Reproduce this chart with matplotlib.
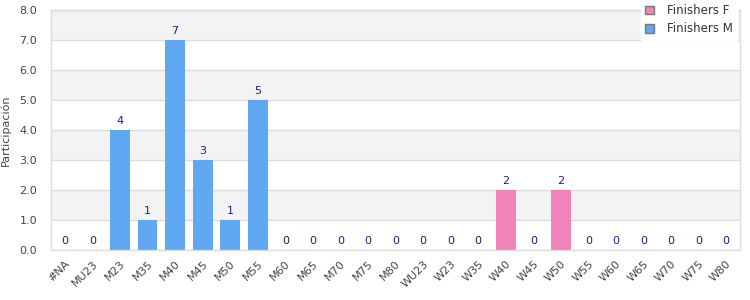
import matplotlib.pyplot as plt
import numpy as np
from matplotlib.patches import Patch

categories = ["#NA", "MU23", "M23", "M35", "M40", "M45", "M50", "M55", "M60", "M65",
              "M70", "M75", "M80", "WU23", "W23", "W35", "W40", "W45", "W50", "W55",
              "W60", "W65", "W70", "W75", "W80"]
finishers_m = [0, 0, 4, 1, 7, 3, 1, 5, 0, 0, 0, 0, 0, 0, 0, 0, 0, 0, 0, 0, 0, 0, 0, 0, 0]
finishers_f = [0, 0, 0, 0, 0, 0, 0, 0, 0, 0, 0, 0, 0, 0, 0, 0, 2, 0, 2, 0, 0, 0, 0, 0, 0]

blue = "#60a8f2"
pink = "#f283b8"
label_color = "#1a1a8c"

fig = plt.figure(figsize=(7.5, 3.0), dpi=100)
ax = fig.add_axes([51 / 750, 50 / 300, 689 / 750, 240 / 300])

x = np.arange(len(categories))
m = np.array(finishers_m)
f = np.array(finishers_f)

# alternating background bands
for lo in range(0, 8):
    if lo % 2 == 1:
        ax.axhspan(lo, lo + 1, color="#f3f3f3", zorder=0, lw=0)
ax.yaxis.grid(True, color="#dddddd", lw=1, zorder=1)
ax.set_axisbelow(True)

ax.bar(x, m, width=0.72, color=blue, zorder=2)
ax.bar(x, f, width=0.72, color=pink, zorder=2)

for xi, val in zip(x, m + f):
    ax.text(xi, val + 0.12, f"{val}", ha="center", va="bottom", fontsize=8,
            color=label_color, zorder=3)

ax.set_xlim(-0.5, len(categories) - 0.5)
ax.set_ylim(0, 8)
ax.set_yticks(np.arange(0, 9, 1))
ax.set_yticklabels([f"{v:.1f}" for v in range(0, 9)])
ax.set_xticks(x)
ax.set_xticklabels(categories, rotation=45, ha="right", rotation_mode="anchor")
ax.tick_params(axis="both", length=0, labelsize=8, labelcolor="#444444")
ax.tick_params(axis="y", pad=10)
ax.tick_params(axis="x", pad=6)

for side in ["left", "bottom", "right", "top"]:
    ax.spines[side].set_color("#dddddd")
    ax.spines[side].set_linewidth(1)

ax.set_ylabel("Participación", fontsize=8, color="#444444", labelpad=6)

handles = [Patch(facecolor=pink, edgecolor="#777777", label="Finishers F"),
           Patch(facecolor=blue, edgecolor="#777777", label="Finishers M")]
leg = ax.legend(handles=handles, loc="upper right", bbox_to_anchor=(737 / 750, 1.0),
                bbox_transform=fig.transFigure, fontsize=8.5, frameon=True,
                fancybox=False, handlelength=0.75, handleheight=0.75,
                borderpad=0.35, labelspacing=0.45, handletextpad=1.1,
                borderaxespad=0.0)
leg.get_frame().set_edgecolor("white")
leg.get_frame().set_facecolor("white")
leg.get_frame().set_alpha(1)
for t in leg.get_texts():
    t.set_color("#333333")

fig.savefig("out.png", dpi=100)
